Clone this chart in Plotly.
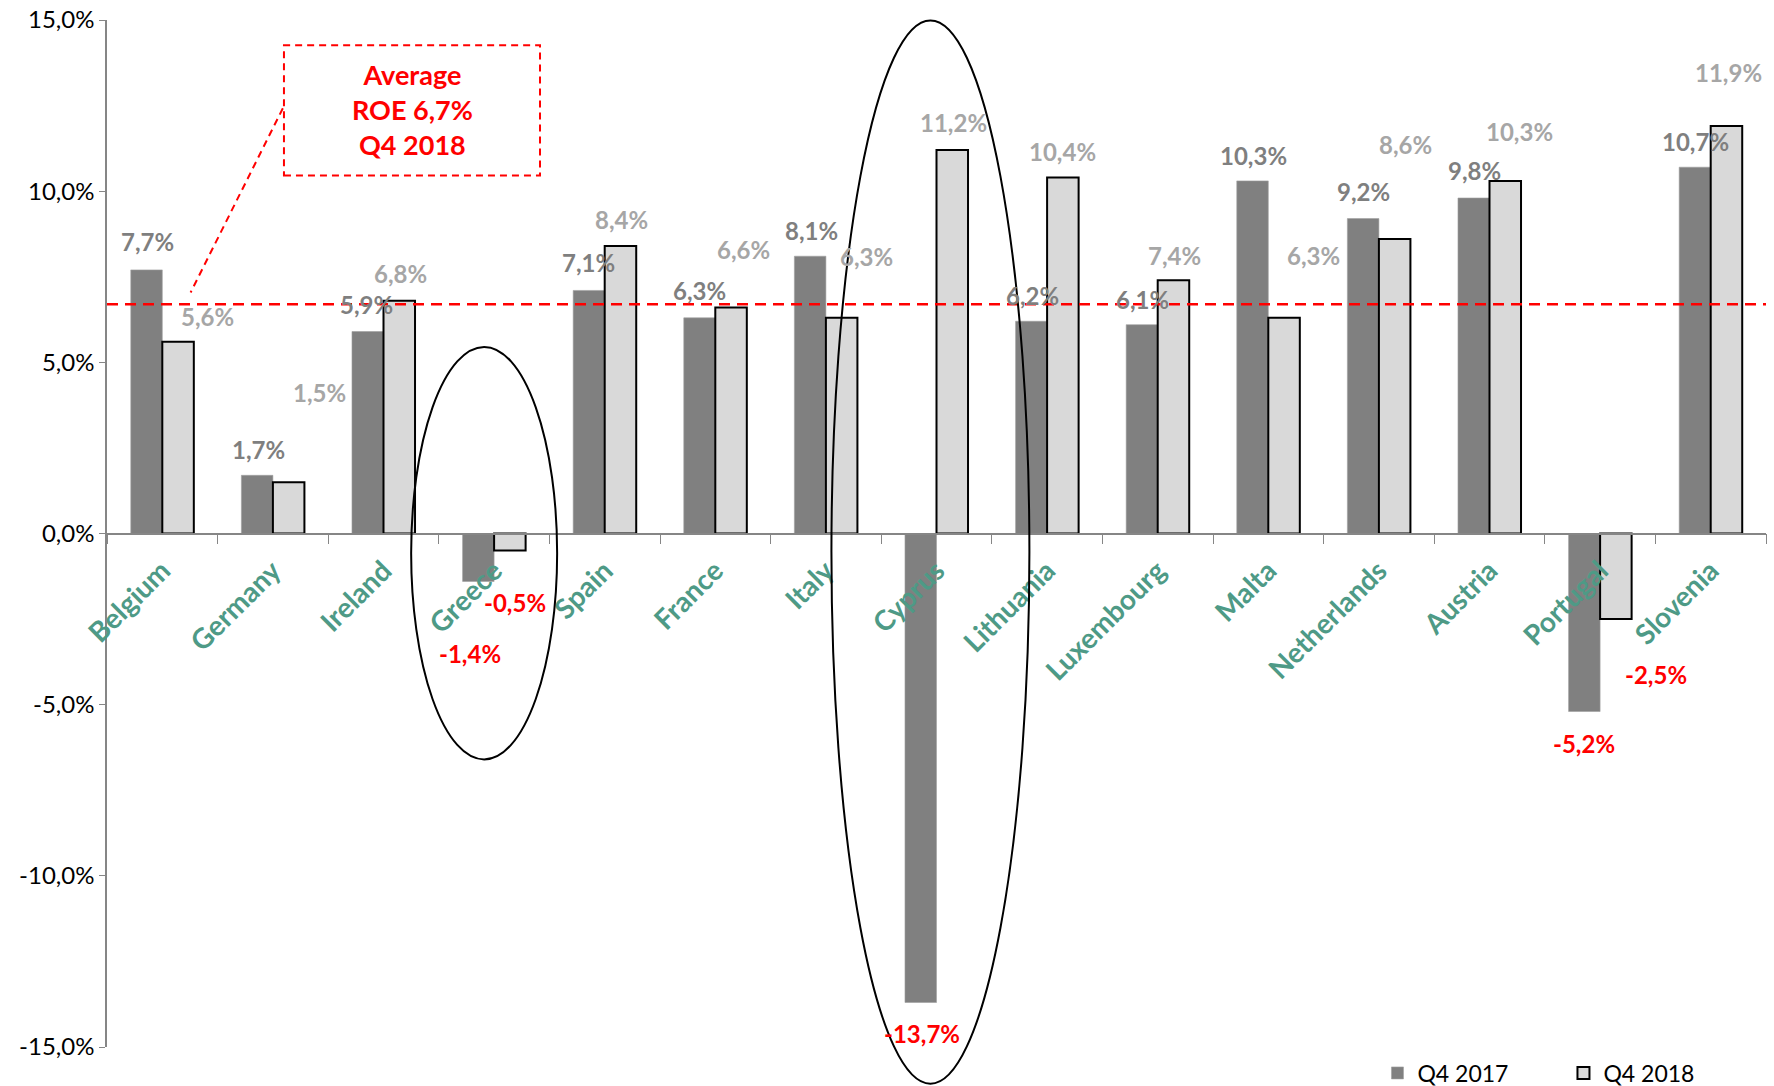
import plotly.graph_objects as go

countries = ["Belgium", "Germany", "Ireland", "Greece", "Spain", "France", "Italy", "Cyprus",
             "Lithuania", "Luxembourg", "Malta", "Netherlands", "Austria", "Portugal", "Slovenia"]
roe_q4_2017 = [7.7, 1.7, 5.9, -1.4, 7.1, 6.3, 8.1, -13.7, 6.2, 6.1, 10.3, 9.2, 9.8, -5.2, 10.7]
roe_q4_2018 = [5.6, 1.5, 6.8, -0.5, 8.4, 6.6, 6.3, 11.2, 10.4, 7.4, 6.3, 8.6, 10.3, -2.5, 11.9]
average_roe = 6.7
y_ticks = [-15, -10, -5, 0, 5, 10, 15]
y_tick_labels = ["-15,0%", "-10,0%", "-5,0%", "0,0%", "5,0%", "10,0%", "15,0%"]

# label offsets (pixels, style only): dx right, dy down relative to bar end
off_2017 = [(1, -28), (1, -26), (-1, -27), (-8, 72), (0, -28), (0, -27), (1, -26), (1, 31),
            (1, -26), (1, -25), (1, -25), (0, -27), (1, -28), (0, 32), (1, -26)]
off_2018 = [(29, -25), (31, -90), (1, -27), (5, 52), (1, -26), (12, -58), (25, -61), (1, -28),
            (0, -26), (1, -25), (29, -62), (11, -95), (14, -49), (40, 55), (2, -54)]

FONT = "Lato"
DARK = "#808080"
LIGHT = "#D9D9D9"
TEAL = "#4E9A86"
RED = "#FF0000"

def fmt(v):
    return f"{v:.1f}".replace(".", ",") + "%"

fig = go.Figure()
fig.add_trace(go.Bar(x=countries, y=roe_q4_2017, name="Q4 2017",
                     marker=dict(color=DARK, line=dict(color="#A0A0A0", width=0.6))))
fig.add_trace(go.Bar(x=countries, y=roe_q4_2018, name="Q4 2018",
                     marker=dict(color=LIGHT, line=dict(color="black", width=2))))

bar_half = 15.8
annotations = []
for i, c in enumerate(countries):
    for vals, offs, col, sgn in ((roe_q4_2017, off_2017, "#7F7F7F", -1),
                                 (roe_q4_2018, off_2018, "#A6A6A6", 1)):
        v = vals[i]
        dx, dy = offs[i]
        annotations.append(dict(
            x=c, y=v, xref="x", yref="y", text=fmt(v), showarrow=False,
            xanchor="center", yanchor="middle",
            xshift=sgn * bar_half + dx, yshift=-dy,
            font=dict(family=FONT, size=24, color=RED if v < 0 else col, weight="bold")))

annotations.append(dict(
    x=2.26, y=12.4, xref="x", yref="y", showarrow=False,
    text="Average<br>ROE 6,7%<br>Q4 2018",
    font=dict(family=FONT, size=27, color=RED, weight="bold"), align="center"))

n = len(countries)
shapes = [
    dict(type="line", xref="paper", yref="y", x0=0, x1=1, y0=average_roe, y1=average_roe,
         line=dict(color=RED, width=2.5, dash="11px,7px"), layer="above"),
    dict(type="rect", xref="x", yref="y", x0=1.10, x1=3.415, y0=10.46, y1=14.26,
         line=dict(color=RED, width=2, dash="7px,5px")),
    dict(type="line", xref="x", yref="y", x0=1.09, y0=12.42, x1=0.256, y1=7.04,
         line=dict(color=RED, width=2, dash="7px,5px")),
    dict(type="circle", xref="x", yref="y", x0=2.25, x1=3.57, y0=-6.6, y1=5.45,
         line=dict(color="black", width=2)),
    dict(type="circle", xref="paper", yref="paper",
         x0=(6.05 + 0.5) / n, x1=(7.84 + 0.5) / n, y0=-0.0358, y1=0.9996,
         line=dict(color="black", width=2)),
]

fig.update_layout(
    width=1774, height=1086,
    margin=dict(l=107, r=8, t=20, b=39, autoexpand=False),
    paper_bgcolor="white", plot_bgcolor="white",
    barmode="group", bargap=0.43, bargroupgap=0,
    font=dict(family=FONT, size=23, color="black"),
    showlegend=True,
    legend=dict(orientation="h", x=0.7658, y=-0.0253, xanchor="left", yanchor="middle",
                font=dict(family=FONT, size=23, color="black"),
                entrywidth=141, entrywidthmode="pixels", bgcolor="rgba(0,0,0,0)"),
    annotations=annotations,
    shapes=shapes,
    xaxis=dict(anchor="free", position=0.5, showline=True, linecolor="#868686", linewidth=1.5,
               ticks="outside", tickson="boundaries", ticklen=10, tickcolor="#868686",
               tickangle=-45, showgrid=False, zeroline=False, ticklabelstandoff=9,
               tickfont=dict(family=FONT, size=28, color=TEAL, weight="bold"),
               range=[-0.5, n - 0.5]),
    yaxis=dict(range=[-15, 15], tickvals=y_ticks, ticktext=y_tick_labels,
               showline=True, linecolor="#868686", linewidth=1.5, ticks="outside",
               ticklen=6, tickcolor="#868686", showgrid=False, zeroline=False,
               tickfont=dict(family=FONT, size=24, color="black")),
)

fig.write_html("out.html")
